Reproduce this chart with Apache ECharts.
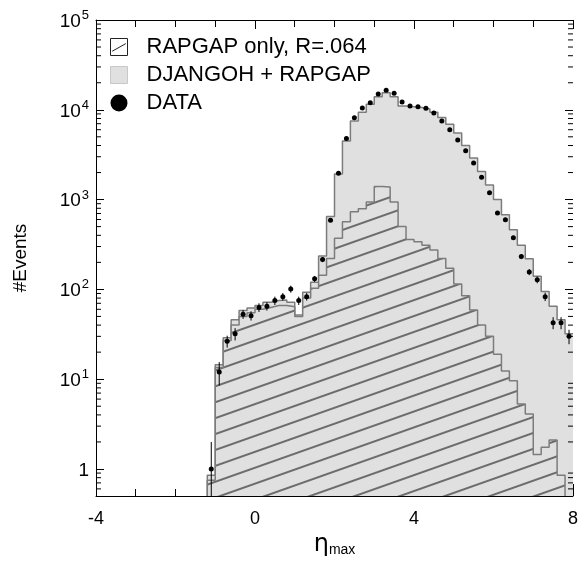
<!DOCTYPE html>
<html>
<head>
<meta charset="utf-8">
<script src="https://cdn.jsdelivr.net/npm/echarts@6/dist/echarts.min.js"></script>
<style>
html,body{margin:0;padding:0;background:#fff;}
#chart{width:581px;height:562px;}
</style>
</head>
<body>
<div id="chart"></div>
<script>
// ---- data ----
const binEdges = [-1.2,-1.0,-0.8,-0.6,-0.4,-0.2,0.0,0.2,0.4,0.6,0.8,1.0,1.2,1.4,1.6,1.8,2.0,2.2,2.4,2.6,2.8,3.0,3.2,3.4,3.6,3.8,4.0,4.2,4.4,4.6,4.8,5.0,5.2,5.4,5.6,5.8,6.0,6.2,6.4,6.6,6.8,7.0,7.2,7.4,7.6,7.8,8.0];
const djangohRapgap = [0.85,14.5,29,46,58,62,66,72,75,76,72,52,93,120,236,650,1930,4500,7500,9400,11500,14000,15500,14000,11000,10800,10600,10200,9400,8200,6900,5500,4000,2900,2050,1450,1000,680,460,310,220,140,95,65,46,32];
const rapgapOnly = [0.75,13.5,27,40,50,55,60,63,66,66,64,50,80,103,144,221,370,565,730,790,940,1400,1380,940,500,360,340,310,274,221,172,115,85,59,40,30,19,12.3,9.6,5.3,4.1,1.45,1.75,2.1,0.85];
const dataX = [-1.1,-0.9,-0.7,-0.5,-0.3,-0.1,0.1,0.3,0.5,0.7,0.9,1.1,1.3,1.5,1.7,1.9,2.1,2.3,2.5,2.7,2.9,3.1,3.3,3.5,3.7,3.9,4.1,4.3,4.5,4.7,4.9,5.1,5.3,5.5,5.7,5.9,6.1,6.3,6.5,6.7,6.9,7.1,7.3,7.5,7.7,7.9];
const dataY = [1.0,12,26.5,32,53,51,63,65,75,83,101,75,83,131,215,590,1960,4800,8150,10500,12000,15000,16500,15300,12200,11000,10800,10400,9200,7500,6000,4600,3500,2560,1770,1190,710,595,375,232,156,128,83,42.5,42.5,30];
const dataErr = [1.0,3.5,4,5,6,6,7,7,8,8,9,8,8,10,14,25,45,70,90,100,110,120,130,125,110,105,105,100,95,87,78,68,60,51,43,35,27,24,19,15,12,11,9,6.5,6.5,5.5];
const xTicks = [-4, 0, 4, 8];
const yMin = 0.5, yMax = 100000;
const xMin = -4, xMax = 8;

// ---- helpers ----
function stepData(vals, dropEnd) {
  const pts = [[binEdges[0], yMin]];
  vals.forEach((v, i) => pts.push([binEdges[i], v]));
  pts.push([binEdges[vals.length], vals[vals.length - 1]]);
  if (dropEnd) pts.push([binEdges[vals.length], yMin]);
  return pts;
}
const minorVals = [];
for (let e = -1; e < 5; e++) {
  for (let k = 2; k <= 9; k++) {
    const v = k * Math.pow(10, e);
    if (v > yMin && v < yMax) minorVals.push([v]);
  }
}
const points = dataX.map((x, i) => [x, dataY[i]]);
const errs = dataX.map((x, i) => [x, Math.max(yMin, dataY[i] - dataErr[i]), dataY[i] + dataErr[i]]);

const FONT = '"Liberation Sans", Arial, Helvetica, sans-serif';
const hatchDecal = {
  symbol: 'rect', symbolSize: 1,
  dashArrayX: [1, 0], dashArrayY: [1.2, 12.5],
  rotation: -0.34, color: '#6c6c6c'
};

const chart = echarts.init(document.getElementById('chart'), null, {renderer: 'canvas'});
chart.setOption({
  animation: false,
  backgroundColor: '#fff',
  textStyle: {fontFamily: FONT},
  grid: {left: 96, right: 5, top: 20, bottom: 64, containLabel: false},
  legend: {
    orient: 'vertical', left: 105, top: 31,
    itemWidth: 17, itemHeight: 17, itemGap: 6,
    textStyle: {fontSize: 22, color: '#000', fontFamily: FONT, padding: [0, 0, 0, 14]},
    data: [
      {name: 'RAPGAP only, R=.064', icon: 'path://M0 0H20V20H0Z M2 15L18 6',
        itemStyle: {color: '#fff', borderColor: '#222', borderWidth: 1, decal: 'none'}},
      {name: 'DJANGOH + RAPGAP', icon: 'rect',
        itemStyle: {color: '#e0e0e0', borderColor: '#c8c8c8', borderWidth: 1, decal: 'none'}},
      {name: 'DATA', icon: 'circle', itemStyle: {color: '#000', opacity: 1}}
    ]
  },
  xAxis: [{
    type: 'value', min: xMin, max: xMax, interval: 4,
    axisLine: {show: true, onZero: false, lineStyle: {color: '#000', width: 1}},
    axisTick: {show: true, inside: true, length: 12, lineStyle: {color: '#000'}},
    minorTick: {show: true, splitNumber: 4, length: 7, lineStyle: {color: '#000'}},
    splitLine: {show: false},
    axisLabel: {fontSize: 18, color: '#000', margin: 14, fontFamily: FONT,
      formatter: v => xTicks.indexOf(v) >= 0 ? String(v) : ''},
    name: '{e|η}{m|max}', nameLocation: 'middle', nameGap: 37,
    nameTextStyle: {rich: {
      e: {fontSize: 24, color: '#000', fontFamily: '"DejaVu Sans", sans-serif'},
      m: {fontSize: 14, color: '#000', fontFamily: FONT, verticalAlign: 'bottom', padding: [8, 0, 0, 0]}
    }}
  }, {
    type: 'value', min: xMin, max: xMax, interval: 4, position: 'top',
    axisLine: {show: true, onZero: false, lineStyle: {color: '#000', width: 1}},
    axisTick: {show: true, inside: true, length: 9, lineStyle: {color: '#000'}},
    minorTick: {show: true, splitNumber: 4, length: 7, lineStyle: {color: '#000'}},
    splitLine: {show: false}, axisLabel: {show: false}
  }],
  yAxis: [{
    type: 'log', logBase: 10, min: yMin, max: yMax,
    axisLine: {show: true, onZero: false, lineStyle: {color: '#000', width: 1}},
    axisTick: {show: true, inside: true, length: 8, lineStyle: {color: '#000'}},
    splitLine: {show: false},
    axisLabel: {
      margin: 7, color: '#000', fontFamily: FONT,
      formatter: function (v) {
        const e = Math.log10(v);
        const r = Math.round(e);
        if (Math.abs(e - r) > 1e-6) return '';
        if (r === 0) return '{b|1}';
        return '{b|10}{s|' + r + '}';
      },
      rich: {
        b: {fontSize: 19, color: '#000', fontFamily: FONT, lineHeight: 22, verticalAlign: 'bottom'},
        s: {fontSize: 13, color: '#000', fontFamily: FONT, lineHeight: 22, verticalAlign: 'top', padding: [0, 0, 8, 1]}
      }
    },
    name: '#Events', nameLocation: 'middle', nameRotate: 90, nameGap: 66,
    nameTextStyle: {fontSize: 19, color: '#000', fontFamily: FONT}
  }, {
    type: 'log', logBase: 10, min: yMin, max: yMax, position: 'right',
    axisLine: {show: false, onZero: false},
    axisTick: {show: true, inside: true, length: 8, lineStyle: {color: '#000'}},
    splitLine: {show: false}, axisLabel: {show: false}
  }],
  series: [
    {
      name: 'DJANGOH + RAPGAP', type: 'line', step: 'end', symbol: 'none',
      data: stepData(djangohRapgap, false), clip: true,
      lineStyle: {color: '#7c7c7c', width: 1.5},
      itemStyle: {color: '#7c7c7c'},
      areaStyle: {color: '#e0e0e0', opacity: 1, origin: 'start'},
      z: 2
    },
    {
      name: 'RAPGAP only, R=.064', type: 'line', step: 'end', symbol: 'none',
      data: stepData(rapgapOnly, true), clip: true,
      lineStyle: {color: '#7c7c7c', width: 1.5, decal: hatchDecal},
      itemStyle: {color: '#7c7c7c', decal: hatchDecal},
      areaStyle: {color: '#e0e0e0', opacity: 1, origin: 'start'},
      z: 3
    },
    {
      name: 'errors', type: 'custom', data: errs, z: 4, clip: true,
      encode: {x: 0, y: [1, 2]},
      renderItem: function (params, api) {
        const a = api.coord([api.value(0), api.value(1)]);
        const b = api.coord([api.value(0), api.value(2)]);
        return {type: 'line', shape: {x1: a[0], y1: a[1], x2: b[0], y2: b[1]},
          style: {stroke: '#000', lineWidth: 1}};
      }
    },
    {
      name: 'DATA', type: 'scatter', data: points, symbol: 'circle', symbolSize: 5,
      itemStyle: {color: '#000', opacity: 1}, z: 5
    },
    {
      name: 'minorTicks', type: 'custom', data: minorVals, z: 6, silent: true,
      encode: {y: 0},
      renderItem: function (params, api) {
        const cs = params.coordSys;
        const y = api.coord([xMin, api.value(0)])[1];
        return {type: 'group', children: [
          {type: 'line', shape: {x1: cs.x, y1: y, x2: cs.x + 5, y2: y}, style: {stroke: '#000', lineWidth: 1}},
          {type: 'line', shape: {x1: cs.x + cs.width - 5, y1: y, x2: cs.x + cs.width, y2: y}, style: {stroke: '#000', lineWidth: 1}}
        ]};
      }
    }
  ]
});
</script>
</body>
</html>
